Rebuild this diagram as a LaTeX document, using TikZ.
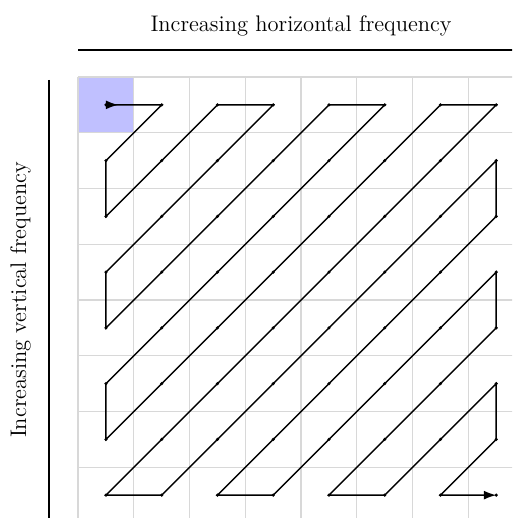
\documentclass[tikz,border=0pt]{standalone}
\usepackage{xcolor}
\usepackage{tikz}
\usetikzlibrary{arrows.meta,positioning}
\definecolor{gridline}{HTML}{D8D8D8}
\definecolor{dccell}{HTML}{C0C0FF}

\begin{document}
\begin{tikzpicture}[>=Latex,
 cellgrid/.style={draw=gridline,line width=0.6pt},
 scanpath/.style={line width=0.75pt,{Latex[reversed,length=2.2mm,width=1.6mm]}-{Latex[length=2.2mm,width=1.6mm]}},
 axisrule/.style={line width=0.8pt},
 lbl/.style={font=\fontsize{11.5}{14}\selectfont}]
 \useasboundingbox (-1.40,-7.91) rectangle (7.785,1.381);
 \clip (-1.40,-7.91) rectangle (7.785,1.381);
 % dc cell and grid
 \fill[dccell] (0,0) rectangle (1,-1);
 \draw[cellgrid] (0,0) grid (8,-8);
 % sample points
 \foreach \c in {0,...,7}
  \foreach \r in {0,...,7}
   \coordinate (\c-\r) at (\c+0.5,-\r-0.5);
 \foreach \c in {0,...,7}
  \foreach \r in {0,...,7}
   \fill (\c-\r) circle (0.9pt);
 % zig-zag scan
 \draw[scanpath] (0-0) -- (1-0) -- (0-1) -- (0-2) -- (2-0) -- (3-0) -- (0-3) -- (0-4)
  -- (4-0) -- (5-0) -- (0-5) -- (0-6) -- (6-0) -- (7-0) -- (0-7) -- (1-7)
  -- (7-1) -- (7-2) -- (2-7) -- (3-7) -- (7-3) -- (7-4) -- (4-7) -- (5-7)
  -- (7-5) -- (7-6) -- (6-7) -- (7-7);
 % axes
 \coordinate (hl) at (0,0.484); \coordinate (hr) at (8,0.484);
 \coordinate (vt) at (-0.52,-0.05); \coordinate (vb) at (-0.52,-8);
 \draw[axisrule] (hl) -- (hr);
 \draw[axisrule] (vt) -- (vb);
 \node[lbl] (htitle) at (4,0.92) {Increasing horizontal frequency};
 \node[lbl,rotate=90] (vtitle) at (-1.03,-4) {Increasing vertical frequency};
\end{tikzpicture}
\end{document}
